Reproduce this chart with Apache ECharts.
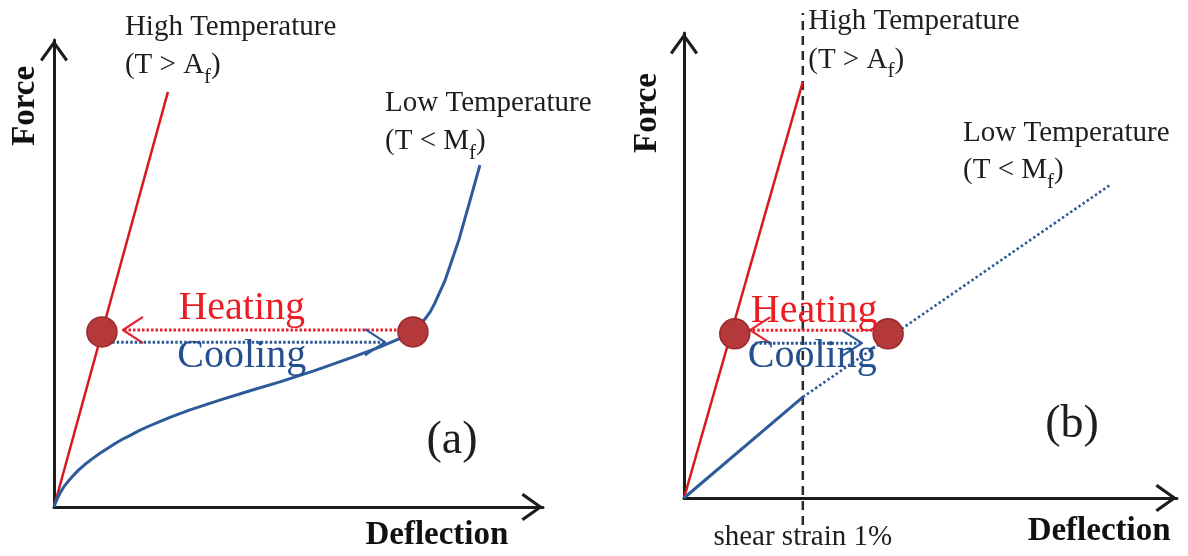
<!DOCTYPE html>
<html><head><meta charset="utf-8">
<script src="https://cdn.jsdelivr.net/npm/echarts@6/dist/echarts.min.js"></script>
<style>html,body{margin:0;padding:0;background:#fff}#c{width:1188px;height:556px}</style>
</head><body><div id="c"></div>
<script>
// ---- Data (normalised Deflection / Force scale 0–100) ----
// Panel (a)
const highTempA = [[0, 0], [23.3, 88.9]];
const lowTempA = [[0, 0], [0.3, 0.9], [0.8, 2.1], [1.3, 3.1], [2.0, 4.3], [2.9, 5.5], [3.9, 6.7], [5.0, 7.9],
  [6.3, 9.1], [7.8, 10.3], [9.4, 11.5], [11.0, 12.6], [12.5, 13.6], [14.0, 14.5], [15.5, 15.3], [17.5, 16.4],
  [19.6, 17.4], [21.6, 18.3], [23.7, 19.2], [27.8, 20.8], [33.9, 22.9], [40.1, 24.9], [46.2, 26.8],
  [53.0, 29.1], [61.1, 32.1], [66.7, 34.3], [70.8, 36.1], [72.2, 36.8], [73.4, 37.6], [74.7, 38.8],
  [75.9, 40.3], [77.0, 41.9], [77.9, 43.7], [80.0, 48.6], [82.8, 57.2], [85.1, 65.7], [87.1, 73.2]];
const heatingA = [[72.8, 37.9], [14.1, 37.9]];   // from -> arrow tip
const coolingA = [[11.9, 35.3], [67.7, 35.3]];
const statesA = [[9.8, 37.5], [73.4, 37.5]];
// Panel (b)
const highTempB = [[0, 0], [24.1, 89.5]];
const lowTempSolidB = [[0, 0], [24.1, 21.7]];
const lowTempDottedB = [[24.1, 21.7], [86.4, 67.3]];
const shearStrainB = 24.1;            // deflection at 1 % shear strain
const strainSpan = [-5.8, 104.3];
const heatingB = [[39.1, 36.1], [13.4, 36.1]];
const coolingB = [[14.4, 33.3], [36.1, 33.3]];
const statesB = [[10.3, 35.3], [41.4, 35.3]];
const axisRange = [0, 100];
const headSize = [4.1, 2.8];

// ---- helpers ----
const SERIF = 'Liberation Serif';
const TXT = '#1e1e1e';
function head(seg) {
  const p0 = seg[0], p1 = seg[seg.length - 1];
  const d = p1[0] > p0[0] ? 1 : -1;
  return [[p1[0] - d * headSize[0], p1[1] + headSize[1]], [p1[0], p1[1]], [p1[0] - d * headSize[0], p1[1] - headSize[1]]];
}
const chevron = 'path://M14,0L28,19.6L25.6,21.6L14,5.2L2.4,21.6L0,19.6Z';
function axis(gi) {
  return {
    type: 'value', gridIndex: gi, min: axisRange[0], max: axisRange[1],
    axisLine: { show: true, onZero: false, symbol: ['none', chevron], symbolSize: [28, 21.6], symbolOffset: [0, -10.8],
      lineStyle: { color: '#1c1c1c', width: 3 } },
    axisTick: { show: false }, axisLabel: { show: false }, splitLine: { show: false }
  };
}
function line(gi, data, color, width, type, extra) {
  return Object.assign({
    type: 'line', xAxisIndex: gi, yAxisIndex: gi, data: data, showSymbol: false, symbol: 'none',
    silent: true, clip: false, z: 2,
    lineStyle: { color: color, width: width, type: type || 'solid', opacity: 1, join: 'round', cap: 'butt' }
  }, extra || {});
}
function dots(gi, data) {
  return { type: 'scatter', xAxisIndex: gi, yAxisIndex: gi, data: data, symbolSize: 30, silent: true, z: 5,
    itemStyle: { color: '#b5383a', borderColor: '#962a2c', borderWidth: 1.5, opacity: 1 } };
}
const subRich = { s: { fontSize: 21, fontFamily: SERIF, color: TXT, lineHeight: 21, padding: [24, 0, 0, 0] } };
function t(x, y, text, o) {
  return { value: [x, y], label: Object.assign({ show: true, position: 'inside', formatter: text, fontFamily: SERIF,
    fontSize: 29, color: TXT, opacity: 1, align: 'center', verticalAlign: 'middle', lineHeight: 30, rich: subRich }, o || {}) };
}
function labels(gi, items) {
  return { type: 'scatter', xAxisIndex: gi, yAxisIndex: gi, data: items, symbolSize: 1, silent: true, clip: false, z: 6,
    itemStyle: { color: 'rgba(0,0,0,0)', opacity: 1 } };
}
const L = { align: 'left' };
const heatStyle = { fontSize: 40, color: '#ec1c24' };
const coolStyle = { fontSize: 40, color: '#24508f' };
const bold = { fontWeight: 'bold', fontSize: 33, color: '#111' };

const option = {
  backgroundColor: '#fff',
  animation: false,
  grid: [
    { left: 54, top: 40, width: 489, height: 467 },
    { left: 684, top: 33, width: 493, height: 465 }
  ],
  xAxis: [axis(0), axis(1)],
  yAxis: [axis(0), axis(1)],
  series: [
    // panel (a)
    line(0, highTempA, '#d7191f', 2.5),
    line(0, lowTempA, '#2d5a98', 3, 'solid', { smooth: false }),
    line(0, heatingA, '#e8212a', 3, [2.5, 2]),
    line(0, head(heatingA), '#e8212a', 2.2),
    line(0, coolingA, '#2d5a98', 3, [2.5, 2]),
    line(0, head(coolingA), '#2d5a98', 2.2),
    dots(0, statesA),
    labels(0, [
      t(14.5, 102.8, 'High Temperature', L),
      t(14.5, 94.6, '(T > A{s|f})', L),
      t(67.7, 86.5, 'Low Temperature', L),
      t(67.7, 78.2, '(T < M{s|f})', L),
      t(38.4, 42.5, 'Heating', heatStyle),
      t(38.4, 32.2, 'Cooling', coolStyle),
      t(81.4, 14.1, '(a)', { fontSize: 46 }),
      t(-5.9, 85.9, 'Force', Object.assign({ rotate: 90 }, bold)),
      t(78.3, -6.2, 'Deflection', bold)
    ]),
    // panel (b)
    line(1, [[shearStrainB, strainSpan[0]], [shearStrainB, strainSpan[1]]], '#2a2a2a', 2.5, [9, 6]),
    line(1, highTempB, '#d7191f', 2.5),
    line(1, lowTempSolidB, '#2d5a98', 3),
    line(1, lowTempDottedB, '#2d5a98', 2.6, [2.5, 2.5]),
    line(1, heatingB, '#e8212a', 3, [2.5, 2]),
    line(1, head(heatingB), '#e8212a', 2.2),
    line(1, coolingB, '#2d5a98', 3, [2.5, 2]),
    line(1, head(coolingB), '#2d5a98', 2.2),
    dots(1, statesB),
    labels(1, [
      t(25.2, 102.4, 'High Temperature', L),
      t(25.2, 94.2, '(T > A{s|f})', L),
      t(56.6, 78.5, 'Low Temperature', L),
      t(56.6, 70.5, '(T < M{s|f})', L),
      t(26.4, 40.2, 'Heating', heatStyle),
      t(26.0, 30.4, 'Cooling', coolStyle),
      t(78.7, 15.7, '(b)', { fontSize: 46 }),
      t(-7.5, 82.8, 'Force', Object.assign({ rotate: 90 }, bold)),
      t(84.2, -7.3, 'Deflection', bold),
      t(shearStrainB, -8.4, 'shear strain 1%', {})
    ])
  ]
};
const chart = echarts.init(document.getElementById('c'), null, { renderer: 'canvas' });
chart.setOption(option);
</script>
</body></html>
